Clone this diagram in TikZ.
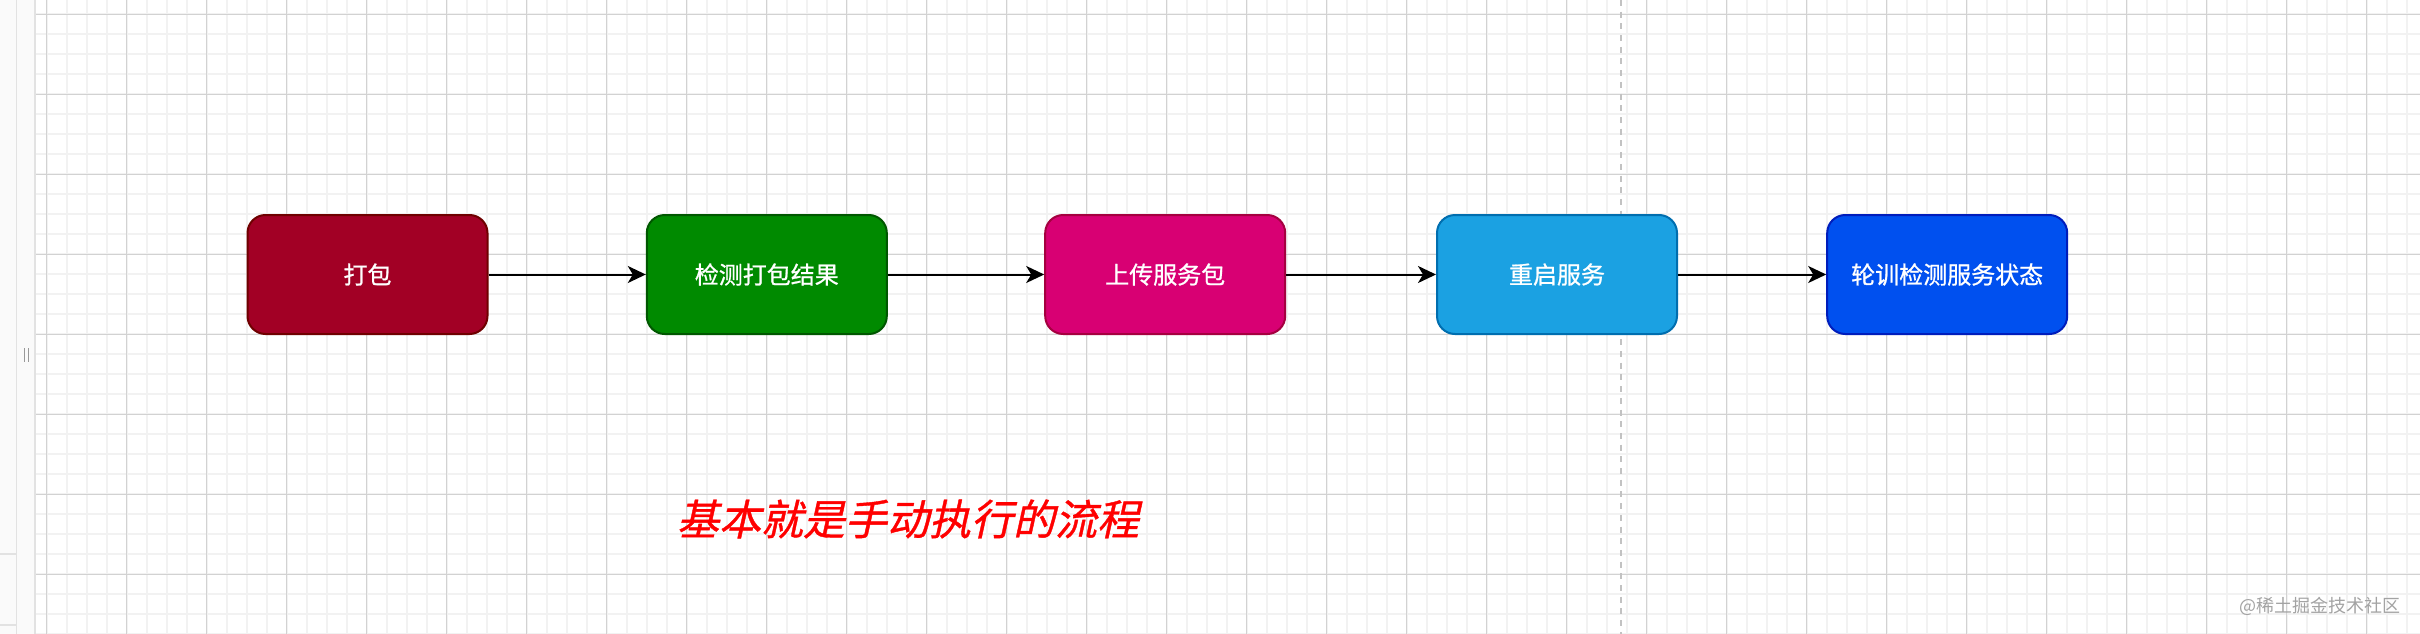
\documentclass[tikz,border=0pt]{standalone}
\usepackage{fontspec}
\usetikzlibrary{arrows.meta}
\newfontfamily\cjk[FakeBold=0.9]{Noto Sans CJK SC}
\newfontfamily\cjkwm{Noto Sans CJK SC}
\newfontfamily\cjkit[FakeSlant=0.22,FakeBold=0.9]{Noto Sans CJK SC}
\definecolor{gridminor}{HTML}{F2F2F2}
\definecolor{gridmajor}{HTML}{D2D2D2}
\definecolor{panelbg}{HTML}{FAFAFA}
\definecolor{panelline}{HTML}{E2E2E2}
\definecolor{dashgray}{HTML}{C2C2C2}
\definecolor{crimsonfill}{HTML}{A20025}\definecolor{crimsonline}{HTML}{6F0000}
\definecolor{greenfill}{HTML}{008A00}\definecolor{greenline}{HTML}{005700}
\definecolor{magentafill}{HTML}{D80073}\definecolor{magentaline}{HTML}{A50040}
\definecolor{cyanfill}{HTML}{1BA1E2}\definecolor{cyanline}{HTML}{006EAF}
\definecolor{bluefill}{HTML}{0050EF}\definecolor{blueline}{HTML}{001DBC}
\definecolor{wmgray}{HTML}{A3A3A3}
\tikzset{
  stepbox/.style={rounded corners=18pt, line width=2pt, minimum width=240pt, minimum height=119pt,
    inner sep=0pt, text=white, font=\cjk\fontsize{24}{28}\selectfont},
  flow/.style={line width=2pt, -{Stealth[length=18pt, width=17pt, inset=5pt]}},
  minorline/.style={draw=gridminor, line width=2pt},
  majorline/.style={draw=gridmajor, line width=1.2pt},
}
\begin{document}
\begin{tikzpicture}[x=1pt, y=-1pt]
\useasboundingbox (0,0) rectangle (2420,634);
\fill[white] (0,0) rectangle (2420,634);
% grid
\foreach \i in {0,...,118} {
  \pgfmathsetmacro\xx{46.7+20*\i}
  \draw[minorline] (\xx,0) -- (\xx,634);
}
\foreach \j in {0,...,31} {
  \pgfmathsetmacro\yy{14.3+20*\j}
  \draw[minorline] (36,\yy) -- (2420,\yy);
}
\foreach \i in {0,...,29} {
  \pgfmathsetmacro\xx{46.7+80*\i}
  \draw[majorline] (\xx,0) -- (\xx,634);
}
\foreach \j in {0,...,7} {
  \pgfmathsetmacro\yy{14.3+80*\j}
  \draw[majorline] (36,\yy) -- (2420,\yy);
}
% left panel
\fill[panelbg] (0,0) rectangle (35,634);
\draw[panelline, line width=1.5pt] (16.5,0) -- (16.5,634);
\draw[panelline, line width=2pt] (35,0) -- (35,634);
\draw[panelline, line width=1.5pt] (0,554) -- (16.5,554);
\draw[panelline, line width=1.5pt] (0,625) -- (16.5,625);
\fill[gray!80] (23.5,348) rectangle (25,362);
\fill[gray!80] (27.5,348) rectangle (29,362);
% dashed guide
\draw[dashgray, line width=2pt, dash pattern=on 6pt off 5.7pt] (1620.7,0) -- (1620.7,634);
% boxes
\node[stepbox, fill=crimsonfill, draw=crimsonline] (b1) at (367.5,274.5) {打包};
\node[stepbox, fill=greenfill, draw=greenline] (b2) at (766.8,274.5) {检测打包结果};
\node[stepbox, fill=magentafill, draw=magentaline] (b3) at (1165.2,274.5) {上传服务包};
\node[stepbox, fill=cyanfill, draw=cyanline] (b4) at (1557,274.5) {重启服务};
\node[stepbox, fill=bluefill, draw=blueline] (b5) at (1947.2,274.5) {轮训检测服务状态};
% connectors
\draw[flow] (b1) -- (b2);
\draw[flow] (b2) -- (b3);
\draw[flow] (b3) -- (b4);
\draw[flow] (b4) -- (b5);
% note
\node[text=red, font=\cjkit\fontsize{42}{48}\selectfont, inner sep=0pt] (note) at (908,519) {基本就是手动执行的流程};
% watermark
\node[text=wmgray, font=\cjkwm\fontsize{18}{20}\selectfont, anchor=east, inner sep=0pt] (wm) at (2401,606) {@稀土掘金技术社区};
\end{tikzpicture}
\end{document}
